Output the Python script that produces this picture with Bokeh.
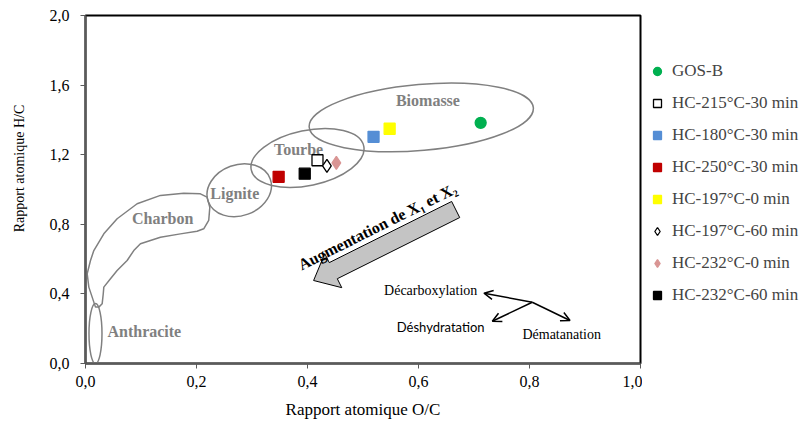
import math
from bokeh.plotting import figure
from bokeh.layouts import row
from bokeh.models import (Range1d, FixedTicker, Legend, LegendItem, Arrow, OpenHead)
from bokeh.core.properties import value
from bokeh.embed import file_html
from bokeh.resources import INLINE

# ---------------- data ----------------
series_names = ["GOS-B", "HC-215°C-30 min", "HC-180°C-30 min", "HC-250°C-30 min",
                "HC-197°C-0 min", "HC-197°C-60 min", "HC-232°C-0 min", "HC-232°C-60 min"]
oc_values = [0.712, 0.418, 0.519, 0.348, 0.548, 0.435, 0.452, 0.395]
hc_values = [1.383, 1.168, 1.303, 1.073, 1.349, 1.136, 1.153, 1.091]

x_ticks = [0.0, 0.2, 0.4, 0.6, 0.8, 1.0]
x_tick_labels = ["0,0", "0,2", "0,4", "0,6", "0,8", "1,0"]
y_ticks = [0.0, 0.4, 0.8, 1.2, 1.6, 2.0]
y_tick_labels = ["0,0", "0,4", "0,8", "1,2", "1,6", "2,0"]

region_names = ["Biomasse", "Tourbe", "Lignite", "Charbon", "Anthracite"]
region_label_x = [0.617, 0.384, 0.269, 0.139, 0.106]
region_label_y = [1.511, 1.228, 0.975, 0.832, 0.184]

ellipse_x = [0.605, 0.400, 0.277, 0.018]
ellipse_y = [1.414, 1.181, 0.996, 0.172]
ellipse_w = [225, 115, 66, 13]
ellipse_h = [66, 55, 51, 60]
ellipse_angle_deg = [5, 12, 20, 0]

charbon_x = [0.018, 0.006, 0.003, 0.009, 0.015, 0.033, 0.057, 0.093, 0.135, 0.177,
             0.207, 0.219, 0.224, 0.222, 0.213, 0.201, 0.171, 0.135, 0.099, 0.087,
             0.075, 0.057, 0.045, 0.033, 0.032, 0.030, 0.024]
charbon_y = [0.324, 0.439, 0.516, 0.592, 0.649, 0.745, 0.832, 0.918, 0.966, 0.979,
             0.975, 0.956, 0.898, 0.822, 0.774, 0.760, 0.745, 0.726, 0.688, 0.649,
             0.592, 0.534, 0.487, 0.439, 0.401, 0.343, 0.324]

big_arrow_tail = (0.667, 0.885)
big_arrow_tip = (0.411, 0.477)
big_arrow_text = "Augmentation de X\u2081 et X\u2082"
big_arrow_text_pos = (0.526, 0.787)

mech_center = (0.805, 0.352)
mech_tips_x = [0.718, 0.733, 0.873]
mech_tips_y = [0.404, 0.243, 0.247]
mech_names = ["Décarboxylation", "Déshydratation", "Dématanation"]
mech_label_x = [0.622, 0.640, 0.858]
mech_label_y = [0.420, 0.207, 0.167]

# ---------------- main figure ----------------
H = 423
LEG_W = 162
W = 804 - LEG_W
MBL, MBR, MBT, MBB = 85, 2, 15, 60
FW, FH = W - MBL - MBR, H - MBT - MBB
p = figure(width=W, height=H, x_range=Range1d(0, 1), y_range=Range1d(0, 2),
           output_backend="svg", toolbar_location=None,
           min_border_left=MBL, min_border_right=MBR, min_border_top=MBT, min_border_bottom=MBB)
p.grid.visible = False
p.outline_line_color = "black"
p.outline_line_width = 2
p.background_fill_color = "white"
p.border_fill_color = "white"

SERIF = value("Liberation Serif")
for ax, ticks, labels in ((p.xaxis[0], x_ticks, x_tick_labels), (p.yaxis[0], y_ticks, y_tick_labels)):
    ax.ticker = FixedTicker(ticks=ticks)
    ax.major_label_overrides = {t: l for t, l in zip(ticks, labels)}
    ax.axis_line_color = "#5a5a5a"
    ax.axis_line_width = 2
    ax.major_tick_line_color = "#5a5a5a"
    ax.major_tick_out = 5
    ax.major_tick_in = 0
    ax.minor_tick_line_color = None
    ax.major_label_text_font = "Liberation Serif"
    ax.major_label_text_font_size = "16px"
    ax.major_label_text_color = "black"
    ax.axis_label_text_font = "Liberation Serif"
    ax.axis_label_text_font_style = "normal"
    ax.axis_label_text_color = "black"
p.xaxis.axis_label = "Rapport atomique O/C"
p.yaxis.axis_label = "\u00a0" * 12 + "Rapport atomique H/C"
p.xaxis.axis_label_text_font_size = "17px"
p.yaxis.axis_label_text_font_size = "14px"
p.yaxis.major_label_standoff = 11
p.yaxis.axis_label_standoff = 20
p.xaxis.major_label_standoff = 7
p.xaxis.axis_label_standoff = 10

# regions
p.ellipse(x=ellipse_x, y=ellipse_y, width=ellipse_w, height=ellipse_h,
          angle=[math.radians(a) for a in ellipse_angle_deg],
          width_units="screen", height_units="screen",
          fill_alpha=0, line_color="#808080", line_width=1.5)
p.patch(charbon_x, charbon_y, fill_alpha=0, line_color="#808080", line_width=1.5)
p.text(x=region_label_x, y=region_label_y, text=region_names, text_font=SERIF,
       text_font_style="bold", text_font_size="16px", text_color="#808080",
       text_align="center", text_baseline="middle")

# big block arrow
SX = FW / 1.0
SY = FH / 2.0


def block_arrow(tail, tip, shaft_hw, head_hw, head_len):
    tx, ty = tail[0] * SX, tail[1] * SY
    hx, hy = tip[0] * SX, tip[1] * SY
    dx, dy = hx - tx, hy - ty
    L = math.hypot(dx, dy)
    ux, uy = dx / L, dy / L
    nx, ny = -uy, ux
    bx, by = hx - ux * head_len, hy - uy * head_len
    pts = [(tx + nx * shaft_hw, ty + ny * shaft_hw),
           (bx + nx * shaft_hw, by + ny * shaft_hw),
           (bx + nx * head_hw, by + ny * head_hw),
           (hx, hy),
           (bx - nx * head_hw, by - ny * head_hw),
           (bx - nx * shaft_hw, by - ny * shaft_hw),
           (tx - nx * shaft_hw, ty - ny * shaft_hw)]
    return [q[0] / SX for q in pts], [q[1] / SY for q in pts]


ax_, ay_ = block_arrow(big_arrow_tail, big_arrow_tip, 9, 19, 22)
p.patch(ax_, ay_, fill_color="#c4c4c4", line_color="black", line_width=1)
ang = math.atan2((big_arrow_tail[1] - big_arrow_tip[1]) * SY, (big_arrow_tail[0] - big_arrow_tip[0]) * SX)
p.text(x=[big_arrow_text_pos[0]], y=[big_arrow_text_pos[1]], text=[big_arrow_text],
       angle=ang, text_font=SERIF, text_font_style="bold", text_font_size="16px",
       text_color="black", text_align="center", text_baseline="middle")

# mechanism arrows
for tx, ty in zip(mech_tips_x, mech_tips_y):
    p.add_layout(Arrow(end=OpenHead(size=9, line_width=1.5, line_color="black"),
                       x_start=mech_center[0], y_start=mech_center[1], x_end=tx, y_end=ty,
                       line_width=1.5, line_color="black"))
p.text(x=[mech_label_x[0], mech_label_x[2]], y=[mech_label_y[0], mech_label_y[2]],
       text=[mech_names[0], mech_names[2]], text_font=SERIF, text_font_size="14px",
       text_color="black", text_align="center", text_baseline="middle")
p.text(x=[mech_label_x[1]], y=[mech_label_y[1]], text=[mech_names[1]], text_font=value("Lato"),
       text_font_size="13px", text_color="black", text_align="center", text_baseline="middle")

# data points
styles = [
    dict(marker="circle", size=11, fill_color="#00B050", line_color="#00B050"),
    dict(marker="square", size=11, fill_color="white", line_color="black"),
    dict(marker="square", size=11, fill_color="#558ED5", line_color="#558ED5"),
    dict(marker="square", size=11, fill_color="#C00000", line_color="#C00000"),
    dict(marker="square", size=11, fill_color="#FFFF00", line_color="#FFFF00"),
    dict(marker="diamond", size=13, fill_color="white", line_color="black"),
    dict(marker="diamond", size=13, fill_color="#D99594", line_color="#D99594"),
    dict(marker="square", size=11, fill_color="black", line_color="black"),
]
for xv, yv, st in zip(oc_values, hc_values, styles):
    p.scatter(x=[xv], y=[yv], marker=st["marker"], size=st["size"],
              fill_color=st["fill_color"], line_color=st["line_color"], line_width=1.3)

# ---------------- legend panel ----------------
# same series drawn in a side figure whose ranges keep them out of view; only the legend shows
pl = figure(width=LEG_W, height=H, x_range=Range1d(0, 1), y_range=Range1d(-2, -1),
            output_backend="svg", toolbar_location=None,
            x_axis_location=None, y_axis_location=None,
            min_border_left=0, min_border_right=0, min_border_top=0, min_border_bottom=0)
pl.grid.visible = False
pl.outline_line_color = None
pl.border_fill_color = "white"
pl.background_fill_color = "white"
items = []
for name, xv, yv, st in zip(series_names, oc_values, hc_values, styles):
    r = pl.scatter(x=[xv], y=[yv], marker=st["marker"], size=st["size"] - 2,
                   fill_color=st["fill_color"], line_color=st["line_color"], line_width=1.3)
    items.append(LegendItem(label=name, renderers=[r]))
legend = Legend(items=items, location=(0, 58), margin=0, padding=0,
                glyph_width=30, glyph_height=20, label_height=20, spacing=12,
                label_standoff=0, label_text_font="Liberation Serif", label_text_font_size="17px",
                background_fill_alpha=0, border_line_alpha=0)
pl.add_layout(legend)

layout = row(p, pl, spacing=0)
open("out.html", "w").write(file_html(layout, INLINE))
